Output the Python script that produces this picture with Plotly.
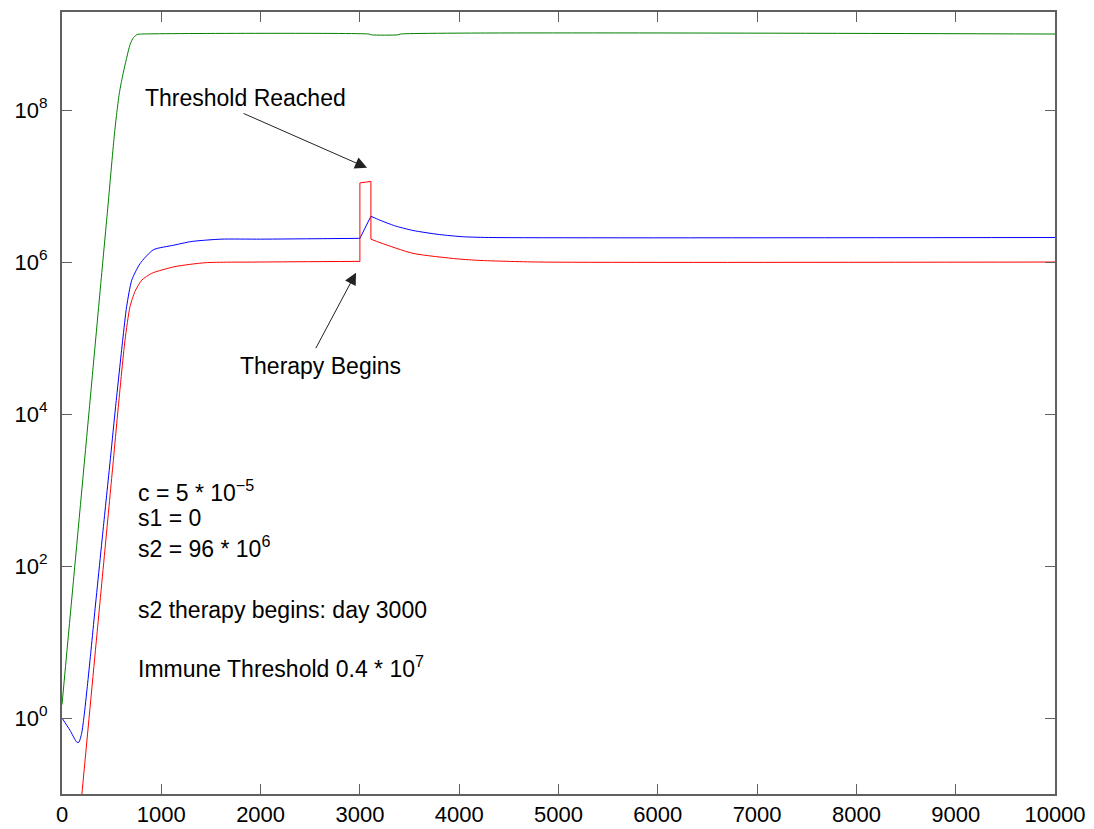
import plotly.graph_objects as go

# ---- data ----
green_days = [0, 100, 273, 384, 460, 525, 555, 580, 610, 640, 687, 720, 757, 800, 3090, 3120, 3380,
              3410, 10000]
green_vals = [1.5, 39, 1.1e4, 4.2e5, 5.0e6, 4.4e7, 1.0e8, 1.75e8, 2.8e8, 4.2e8, 7.4e8, 9.0e8, 9.85e8,
              1.0e9, 1.0e9, 9.75e8, 9.75e8, 1.0e9, 1.0e9]

blue_days = [0, 80, 150, 170, 198, 222, 255, 289, 326, 417, 490, 540, 611, 651, 702, 785, 920,
             1121, 1300, 1600, 2000, 3000, 3111, 3202, 3350, 3535, 3800, 4040, 4330, 10000]
blue_vals = [1.0, 0.69, 0.48, 0.48, 0.63, 1.05, 2.6, 7.1, 22, 330, 2.8e3, 1.26e4, 9.3e4, 2.6e5,
             5.75e5, 9.5e5, 1.45e6, 1.66e6, 1.86e6, 2.0e6, 2.0e6, 2.05e6, 4.0e6, 3.55e6, 3.0e6,
             2.6e6, 2.3e6, 2.15e6, 2.1e6, 2.1e6]

red_days = [0, 198, 343, 517, 560, 634, 685, 735, 802, 903, 1138, 1444, 2000, 3000, 3000, 3111, 3111,
            3202, 3535, 3980, 4210, 4800, 10000]
red_vals = [1.7e-4, 0.093, 9.5, 2.45e3, 1.0e4, 9.3e4, 2.6e5, 4.1e5, 5.75e5, 7.1e5, 8.7e5, 9.8e5,
            1.0e6, 1.02e6, 1.1e7, 1.15e7, 2.0e6, 1.8e6, 1.3e6, 1.1e6, 1.05e6, 1.0e6, 1.0e6]

x_ticks = [0, 1000, 2000, 3000, 4000, 5000, 6000, 7000, 8000, 9000, 10000]
y_tickvals = [1, 1e2, 1e4, 1e6, 1e8]
y_ticktext = ["10<sup>0</sup>", "10<sup>2</sup>", "10<sup>4</sup>", "10<sup>6</sup>", "10<sup>8</sup>"]

FONT = "Liberation Sans, Arial, Helvetica, sans-serif"
FRAME = "#606060"

fig = go.Figure()


def seg(xs, ys, color, shape):
    fig.add_trace(go.Scatter(x=xs, y=ys, mode="lines", showlegend=False, hoverinfo="skip",
                             line=dict(color=color, width=1, shape=shape, smoothing=0.6)))


seg(green_days, green_vals, "#008000", "spline")
# blue: smooth growth, straight therapy ramp, smooth decay
i_b = blue_days.index(3000)
seg(blue_days[:i_b + 1], blue_vals[:i_b + 1], "#0000ff", "spline")
seg(blue_days[i_b:i_b + 2], blue_vals[i_b:i_b + 2], "#0000ff", "linear")
seg(blue_days[i_b + 1:], blue_vals[i_b + 1:], "#0000ff", "spline")
# red: smooth growth, sharp spike, smooth decay
i_r = red_days.index(3000)
seg(red_days[:i_r + 1], red_vals[:i_r + 1], "#ff0000", "spline")
seg(red_days[i_r:i_r + 4], red_vals[i_r:i_r + 4], "#ff0000", "linear")
seg(red_days[i_r + 3:], red_vals[i_r + 3:], "#ff0000", "spline")

L, R, T, B = 62, 39, 12, 35
W, H = 1094, 829
pw, ph = W - L - R, H - T - B


def px(xp):
    return (xp - L) / pw


def py(yp):
    return (H - B - yp) / ph


txt = dict(family=FONT, size=23, color="black")
notes = [
    ("c = 5 * 10<sup>\u22125</sup>", 136, 491),
    ("s1 = 0", 136, 518),
    ("s2 = 96 * 10<sup>6</sup>", 136, 547),
    ("s2 therapy begins: day 3000", 136, 610),
    ("Immune Threshold 0.4 * 10<sup>7</sup>", 136, 667),
    ("Threshold Reached", 143, 98),
    ("Therapy Begins", 238, 366),
]
for t, x0, y0 in notes:
    fig.add_annotation(text=t, xref="paper", yref="paper", x=px(x0), y=py(y0),
                       xanchor="left", yanchor="middle", showarrow=False, font=txt)

# arrows (heads in data coordinates, tails as pixel offsets)
fig.add_annotation(x=3072, y=7.24, xref="x", yref="y", text="", showarrow=True,
                   ax=-125, ay=-55, arrowhead=2, arrowsize=2.4, arrowwidth=1,
                   arrowcolor="#222222")
fig.add_annotation(x=2961, y=5.86, xref="x", yref="y", text="", showarrow=True,
                   ax=-41, ay=77, arrowhead=2, arrowsize=2.4, arrowwidth=1,
                   arrowcolor="#222222")

fig.update_xaxes(range=[0, 10000], tickvals=x_ticks, ticktext=[str(v) for v in x_ticks],
                 ticks="inside", ticklen=10, tickcolor=FRAME, showline=True, linecolor=FRAME,
                 linewidth=2, mirror="ticks", showgrid=False, zeroline=False, automargin=False,
                 tickfont=dict(family=FONT, size=22, color="black"))
fig.update_yaxes(type="log", range=[-1, 9.29], tickvals=y_tickvals, ticktext=y_ticktext,
                 ticks="inside", ticklen=10, tickcolor=FRAME, showline=True, linecolor=FRAME,
                 linewidth=2, mirror="ticks", showgrid=False, zeroline=False, automargin=False,
                 ticklabelstandoff=8,
                 tickfont=dict(family=FONT, size=22, color="black"))

fig.update_layout(width=W, height=H, margin=dict(l=L, r=R, t=T, b=B, autoexpand=False),
                  paper_bgcolor="white", plot_bgcolor="white", showlegend=False)

fig.write_html("out.html", config={"displayModeBar": False, "staticPlot": True},
               post_script="document.body.style.margin='0';document.body.style.overflow='hidden';")
